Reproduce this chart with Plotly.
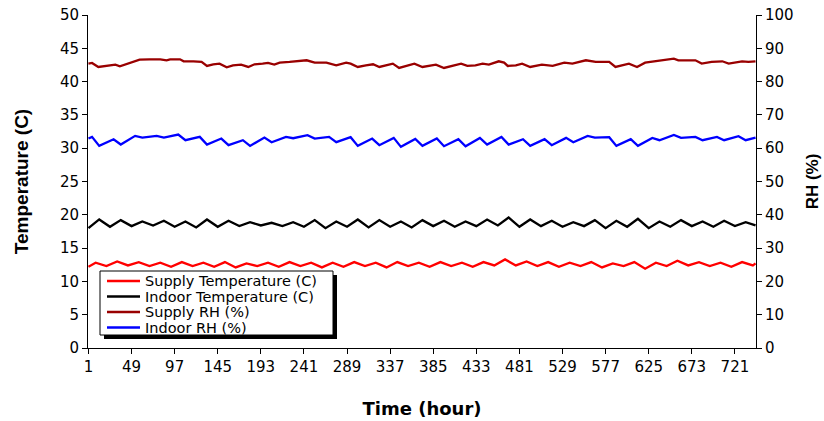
import plotly.graph_objects as go

# ---------------- data ----------------
x_tick_hours = [1, 49, 97, 145, 193, 241, 289, 337, 385, 433, 481, 529, 577, 625, 673, 721]
left_ticks = [0, 5, 10, 15, 20, 25, 30, 35, 40, 45, 50]
right_ticks = [0, 10, 20, 30, 40, 50, 60, 70, 80, 90, 100]

series_names = ["Supply Temperature (C)", "Indoor Temperature (C)", "Supply RH (%)", "Indoor RH (%)"]

supply_temp_hours = [1, 9, 21, 33, 45, 57, 69, 81, 93, 105, 117, 129, 141, 153, 165, 177, 189, 201,
                     213, 225, 237, 249, 261, 273, 285, 297, 309, 321, 333, 345, 357, 369, 381, 393,
                     405, 417, 429, 441, 453, 465, 477, 489, 501, 513, 525, 537, 549, 561, 573, 585,
                     597, 609, 621, 633, 645, 657, 669, 681, 693, 705, 717, 729, 741, 744]
supply_temp = [12.2,
               12.8, 12.3, 13.0, 12.4, 12.9, 12.3, 12.8, 12.2, 12.9, 12.3, 12.8, 12.2, 12.9, 12.1,
               12.7, 12.3, 12.8, 12.2, 12.9, 12.3, 12.8, 12.1, 12.8, 12.2, 12.9, 12.3, 12.8, 12.1,
               12.9, 12.3, 12.8, 12.2, 12.9, 12.3, 12.8, 12.2, 12.9, 12.4, 13.3, 12.4, 13.0, 12.3,
               12.9, 12.2, 12.8, 12.3, 12.9, 12.1, 12.7, 12.3, 12.9, 11.9, 12.8, 12.3, 13.1, 12.4,
               12.9, 12.3, 12.8, 12.2, 12.9, 12.4,
               12.7]

indoor_temp_hours = [1, 13, 25, 37, 49, 61, 73, 85, 97, 109, 121, 133, 145, 157, 169, 181, 193, 205,
                     217, 229, 241, 253, 265, 277, 289, 301, 313, 325, 337, 349, 361, 373, 385, 397,
                     409, 421, 433, 445, 457, 469, 481, 493, 505, 517, 529, 541, 553, 565, 577, 589,
                     601, 613, 625, 637, 649, 661, 673, 685, 697, 709, 721, 733, 744]
indoor_temp = [18.0, 19.3, 18.2, 19.2, 18.3, 19.0, 18.4, 19.1, 18.2, 19.0, 18.1, 19.3, 18.2, 19.1,
               18.3, 18.9, 18.4, 18.8, 18.3, 18.9, 18.2, 19.2, 18.0, 19.0, 18.2, 19.3, 18.1, 19.2,
               18.2, 19.0, 18.1, 19.2, 18.3, 19.1, 18.2, 19.0, 18.3, 19.3, 18.4, 19.6, 18.2, 19.3,
               18.3, 19.1, 18.2, 18.9, 18.3, 19.2, 18.0, 19.1, 18.2, 19.4, 18.0, 19.0, 18.2, 19.2,
               18.3, 19.0, 18.2, 19.1, 18.3, 18.9,
               18.4]

supply_rh_hours = [1, 5, 12, 21, 31, 36, 44, 53, 58, 69, 81, 88, 92, 103, 107, 118, 127, 133, 140,
                   147, 155, 162, 171, 179, 186, 195, 201, 208, 214, 225, 233, 244, 253, 266, 277,
                   288, 293, 301, 310, 318, 325, 340, 347, 358, 364, 373, 388, 397, 410, 416, 423,
                   432, 440, 447, 458, 464, 468, 477, 484, 493, 506, 518, 531, 540, 555, 566, 581,
                   588, 603, 612, 621, 632, 641, 653, 658, 677, 684, 695, 707, 714, 729, 736, 744]
supply_rh = [85.4, 85.6, 84.4, 84.7, 85.1, 84.6, 85.4, 86.1, 86.6, 86.7, 86.7, 86.4, 86.7, 86.7,
             86.1, 86.1, 85.9, 84.7, 85.2, 85.4, 84.3, 84.9, 85.1, 84.4, 85.2, 85.4, 85.6, 85.1,
             85.7, 85.9, 86.1, 86.4, 85.7, 85.7, 84.9, 85.7, 85.4, 84.4, 84.9, 85.2, 84.4, 85.4,
             84.1, 84.9, 85.4, 84.4, 85.1, 84.1, 84.9, 85.4, 84.7, 84.9, 85.4, 85.1, 86.1, 85.7,
             84.7, 84.9, 85.4, 84.4, 85.1, 84.7, 85.7, 85.4, 86.4, 85.9, 85.9, 84.4, 85.4, 84.4,
             85.7, 86.1, 86.4, 86.9, 86.4, 86.4, 85.4, 85.9, 86.1, 85.4, 86.1, 85.9, 86.1]

indoor_rh_hours = [1, 5, 13, 29, 37, 53, 61, 77, 85, 101, 109, 125, 133, 149, 157, 173, 181, 197,
                   205, 221, 229, 245, 253, 269, 277, 293, 301, 317, 325, 341, 349, 365, 373, 389,
                   397, 413, 421, 437, 445, 461, 469, 485, 493, 509, 517, 533, 541, 557, 565, 581,
                   589, 605, 613, 629, 637, 653, 661, 677, 685, 701, 709, 725, 733, 744]
indoor_rh = [62.9,
             63.4, 60.7, 62.7, 61.1, 63.7, 63.2, 63.7, 63.2, 64.1, 62.4, 63.4, 61.1, 62.9, 60.9,
             62.4, 60.7, 63.2, 61.8, 63.4, 63.0, 63.9, 62.9, 63.4, 61.8, 63.3, 60.7, 62.9, 60.9,
             63.1, 60.4, 62.8, 60.7, 62.9, 60.6, 62.7, 60.6, 63.1, 61.1, 63.4, 61.1, 62.7, 60.7,
             62.7, 60.9, 63.1, 61.8, 63.7, 63.2, 63.3, 60.7, 62.7, 60.7, 63.1, 62.4, 64.0, 63.1,
             63.4, 62.4, 63.4, 62.4, 63.6, 62.4,
             63.2]

# ---------------- styling ----------------
colors = ["#FF0000", "#000000", "#990000", "#0000FF"]
LINE_W = 2.3
ARIAL = "Arial, Liberation Sans, sans-serif"
WIDE = "DejaVu Sans, Verdana, sans-serif"
W, H = 824, 421
L, R, T, B = 88, 68, 15, 73
pw = W - L - R
ph = H - T - B


def px_x(p):
    return (p - L) / pw


def px_y(p):
    return (H - B - p) / ph


fig = go.Figure()
data_sets = [
    (supply_temp_hours, supply_temp, "y"),
    (indoor_temp_hours, indoor_temp, "y"),
    (supply_rh_hours, supply_rh, "y2"),
    (indoor_rh_hours, indoor_rh, "y2"),
]
for (xs, ys, ax), name, col in zip(data_sets, series_names, colors):
    fig.add_trace(go.Scatter(x=xs, y=ys, mode="lines", name=name, yaxis=ax,
                             showlegend=False,
                             line=dict(color=col, width=LINE_W)))

# ---------------- legend box (drawn, Excel style with shadow) ----------------
box = dict(x0=100, x1=333, y0=271, y1=335)
shadow = 4
fig.add_shape(type="rect", xref="paper", yref="paper",
              x0=px_x(box["x0"] + shadow), x1=px_x(box["x1"] + shadow),
              y0=px_y(box["y1"] + shadow), y1=px_y(box["y0"] + shadow),
              fillcolor="black", line=dict(width=0), layer="above")
fig.add_shape(type="rect", xref="paper", yref="paper",
              x0=px_x(box["x0"]), x1=px_x(box["x1"]),
              y0=px_y(box["y1"]), y1=px_y(box["y0"]),
              fillcolor="white", line=dict(color="black", width=1), layer="above")
row_y = [281, 296.5, 312, 327.5]
for name, col, ry in zip(series_names, colors, row_y):
    fig.add_shape(type="line", xref="paper", yref="paper",
                  x0=px_x(107), x1=px_x(140), y0=px_y(ry), y1=px_y(ry),
                  line=dict(color=col, width=LINE_W), layer="above")
    fig.add_annotation(xref="paper", yref="paper", x=px_x(143), y=px_y(ry),
                       xanchor="left", yanchor="middle", showarrow=False,
                       text=name, font=dict(family=WIDE, size=14.5, color="black"))

fig.update_layout(
    width=W, height=H,
    margin=dict(l=L, r=R, t=T, b=B),
    paper_bgcolor="white", plot_bgcolor="white",
    font=dict(family=WIDE, size=15, color="black"),
    showlegend=False,
    xaxis=dict(range=[0.5, 744.5], tickmode="array", tickvals=x_tick_hours,
               ticktext=[str(v) for v in x_tick_hours],
               showline=True, linecolor="black", linewidth=1,
               ticks="outside", ticklen=5, tickcolor="black",
               showgrid=False, zeroline=False, automargin=False,
               tickfont=dict(family=WIDE, size=15),
               title=dict(text="<b>Time (hour)</b>", font=dict(family=WIDE, size=18),
                          standoff=27)),
    yaxis=dict(range=[0, 50], tickmode="array", tickvals=left_ticks,
               showline=True, linecolor="black", linewidth=1,
               ticks="outside", ticklen=5, tickcolor="black",
               showgrid=False, zeroline=False, automargin=False,
               tickfont=dict(family=WIDE, size=15),
               title=dict(text="<b>Temperature (C)</b>", font=dict(family=ARIAL, size=19),
                          standoff=26)),
    yaxis2=dict(range=[0, 100], tickmode="array", tickvals=right_ticks,
                overlaying="y", side="right",
                showline=True, linecolor="black", linewidth=1,
                ticks="outside", ticklen=5, tickcolor="black",
                showgrid=False, zeroline=False, automargin=False,
                tickfont=dict(family=WIDE, size=15),
                title=dict(text="<b>RH (%)</b>", font=dict(family=ARIAL, size=17),
                           standoff=13)),
)

# the page is photographed in a window exactly the figure's size: drop the body margin
fig.write_html("out.html", config={"displayModeBar": False},
               post_script="document.body.style.margin='0px';")
